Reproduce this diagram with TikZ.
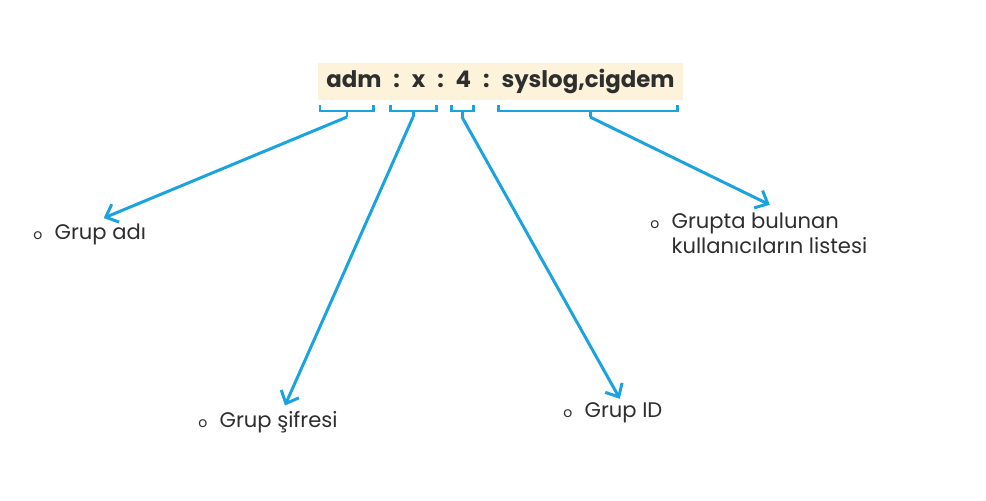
\documentclass[tikz,border=0pt]{standalone}
\usepackage{fontspec}
\setmainfont{Poppins}
\usetikzlibrary{positioning,arrows.meta}
\definecolor{lineblue}{HTML}{1AA3DE}
\definecolor{cream}{HTML}{FCF3DA}
\definecolor{ink}{HTML}{2E2E2E}
\newcommand{\bul}{{\fontsize{8}{8}\selectfont o}\hspace{7pt}}
\newcommand{\gap}{\hspace{6.8pt}}

\begin{document}
\begin{tikzpicture}
 [x=0.02cm, y=-0.02cm,
  record/.style={fill=cream, text=ink, font=\bfseries\fontsize{13}{15}\selectfont, minimum width=7.3cm, minimum height=0.74cm, inner sep=0pt},
  item/.style={text=ink, font=\fontsize{12}{14.5}\selectfont, anchor=base west, inner sep=0pt},
  bracket/.style={draw=lineblue, line width=1.7pt},
  pointer/.style={draw=lineblue, line width=1.7pt, -{Straight Barb[length=6pt, width=11pt, line width=1.7pt]}}]
 \useasboundingbox (0,0) rectangle (986,500);
 \node (rec) [record] at (500.5,81.5) {adm\gap:\gap x\gap:\gap 4\gap:\gap syslog,cigdem};
 \foreach \a/\b/\m/\n in {320/373/347/b1, 390/436/413/b2, 451/473/462/b3, 498/677/590/b4}
 \draw[bracket] (\a,105) -- (\a,111) -- (\b,111) -- (\b,105) (\m,111) -- (\m,117) coordinate (\n);
 \node (adi) [item] at (33,239) {\bul Grup adı};
 \node (sifre) [item] at (198,427) {\bul Grup şifresi};
 \node (gid) [item] at (563,417) {\bul Grup ID};
 \node (liste) [item] at (650,228) {\bul\begin{tabular}[t]{@{}l@{}}Grupta bulunan\\kullanıcıların listesi\end{tabular}};
 \draw[pointer] (b1) -- ([shift={(14,-5)}]adi.north);
 \draw[pointer] (b2) -- ([shift={(17,-5)}]sifre.north);
 \draw[pointer] (b3) -- ([shift={(7,-3)}]gid.north);
 \draw[pointer] (b4) -- ([shift={(11,-5)}]liste.north);
\end{tikzpicture}
\end{document}
